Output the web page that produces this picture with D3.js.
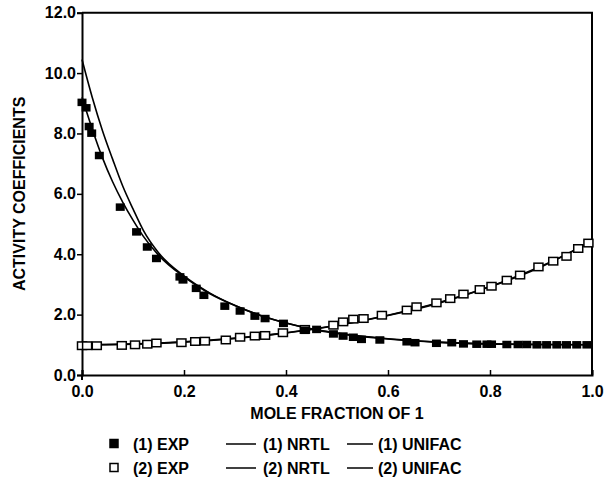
<!DOCTYPE html>
<html>
<head>
<meta charset="utf-8">
<script src="https://cdn.jsdelivr.net/npm/d3@7"></script>
<style>
  html, body { margin: 0; padding: 0; background: #fff; }
  svg text { font-family: "Liberation Sans", Arial, sans-serif; font-weight: bold; fill: #000; }
</style>
</head>
<body>
<svg id="chart" width="607" height="477"></svg>
<script>
// experimental points, component 1 (filled) and 2 (open): [x1, gamma]
const exp1 = [
  [0.0, 9.03], [0.008, 8.85], [0.014, 8.23], [0.019, 8.01], [0.034, 7.27],
  [0.075, 5.56], [0.107, 4.74], [0.128, 4.24], [0.146, 3.86], [0.192, 3.25],
  [0.198, 3.15], [0.224, 2.87], [0.239, 2.64], [0.28, 2.28], [0.31, 2.12],
  [0.339, 1.95], [0.359, 1.87], [0.395, 1.71], [0.437, 1.48], [0.46, 1.51],
  [0.493, 1.36], [0.512, 1.29], [0.532, 1.25], [0.548, 1.18], [0.584, 1.16],
  [0.637, 1.1], [0.653, 1.07], [0.695, 1.05], [0.725, 1.07], [0.748, 1.03],
  [0.774, 1.02], [0.794, 1.02], [0.803, 1.02], [0.833, 1.01], [0.855, 1.01],
  [0.872, 1.01], [0.892, 1.0], [0.911, 1.0], [0.931, 1.0], [0.95, 1.0],
  [0.97, 1.0], [0.99, 1.0]
];
const exp2 = [
  [0.0, 0.97], [0.01, 0.97], [0.029, 0.97], [0.078, 0.98], [0.104, 1.0],
  [0.128, 1.02], [0.146, 1.06], [0.195, 1.07], [0.222, 1.11], [0.241, 1.12],
  [0.282, 1.16], [0.31, 1.25], [0.339, 1.29], [0.359, 1.31], [0.394, 1.4],
  [0.437, 1.51], [0.493, 1.65], [0.512, 1.76], [0.532, 1.85], [0.552, 1.87],
  [0.588, 1.98], [0.637, 2.15], [0.656, 2.26], [0.695, 2.39], [0.722, 2.53],
  [0.748, 2.68], [0.78, 2.83], [0.803, 2.94], [0.833, 3.14], [0.859, 3.31],
  [0.895, 3.58], [0.924, 3.77], [0.95, 3.93], [0.973, 4.19], [0.993, 4.37]
];

// model curves
const nrtl1 = [
  [0, 9.2], [0.02, 8.15], [0.04, 7.2], [0.06, 6.4], [0.08, 5.72], [0.1, 5.13],
  [0.12, 4.6], [0.15, 3.97], [0.2, 3.25], [0.25, 2.7], [0.3, 2.3], [0.35, 1.97],
  [0.4, 1.72], [0.45, 1.53], [0.5, 1.39], [0.6, 1.2], [0.7, 1.09], [0.8, 1.03],
  [0.9, 1.01], [1.0, 1.0]
];
const unifac1 = [
  [0, 10.45], [0.02, 9.2], [0.04, 8.1], [0.06, 7.15], [0.08, 6.25], [0.1, 5.5],
  [0.12, 4.8], [0.15, 4.05], [0.2, 3.28], [0.25, 2.72], [0.3, 2.3], [0.35, 1.97],
  [0.4, 1.72], [0.45, 1.52], [0.5, 1.38], [0.6, 1.19], [0.7, 1.08], [0.8, 1.03],
  [0.9, 1.01], [1.0, 1.0]
];
const nrtl2 = [
  [0, 1.0], [0.1, 1.03], [0.2, 1.1], [0.3, 1.22], [0.4, 1.4], [0.5, 1.65],
  [0.6, 1.98], [0.7, 2.4], [0.8, 2.93], [0.9, 3.6], [1.0, 4.42]
];
const unifac2 = [
  [0, 1.0], [0.1, 1.02], [0.2, 1.09], [0.3, 1.21], [0.4, 1.39], [0.5, 1.64],
  [0.6, 1.97], [0.7, 2.38], [0.8, 2.92], [0.9, 3.58], [1.0, 4.45]
];

const xTicks = [0, 0.2, 0.4, 0.6, 0.8, 1.0];
const yTicks = [0, 2, 4, 6, 8, 10, 12];
const legendRows = [
  ['(1) EXP', '(1) NRTL', '(1) UNIFAC'],
  ['(2) EXP', '(2) NRTL', '(2) UNIFAC']
];

const svg = d3.select('#chart');
const plot = { left: 82, right: 592, top: 12.7, bottom: 375 };

const x = d3.scaleLinear().domain([0, 1]).range([plot.left, plot.right]);
const y = d3.scaleLinear().domain([0, 12]).range([plot.bottom, plot.top]);

// frame (top + right)
svg.append('path')
  .attr('d', `M${plot.left},${plot.top}H${plot.right}V${plot.bottom}`)
  .attr('fill', 'none').attr('stroke', '#000').attr('stroke-width', 2);

const xAxis = svg.append('g')
  .attr('transform', `translate(0,${plot.bottom})`)
  .call(d3.axisBottom(x).tickValues(xTicks).tickSize(-5).tickPadding(11)
    .tickFormat(d3.format('.1f')));
xAxis.select('.domain').attr('stroke-width', 2);
xAxis.selectAll('line').attr('stroke-width', 1.5);

const yAxis = svg.append('g')
  .attr('transform', `translate(${plot.left},0)`)
  .call(d3.axisLeft(y).tickValues(yTicks).tickSize(5).tickPadding(1)
    .tickFormat(d3.format('.1f')));
yAxis.select('.domain').attr('stroke-width', 2);
yAxis.selectAll('line').attr('stroke-width', 1.5);

svg.selectAll('.tick text').style('font-size', '16px').style('font-family', '"Liberation Sans", Arial, sans-serif');

// y axis runs a little below the x axis
svg.append('line')
  .attr('x1', plot.left).attr('x2', plot.left).attr('y1', plot.bottom).attr('y2', plot.bottom + 5)
  .attr('stroke', '#000').attr('stroke-width', 2);

svg.append('text')
  .attr('x', (plot.left + plot.right) / 2).attr('y', 419)
  .attr('text-anchor', 'middle')
  .style('font-size', '16px')
  .text('MOLE FRACTION OF 1');

svg.append('text')
  .attr('transform', `translate(25,${(plot.top + plot.bottom) / 2}) rotate(-90)`)
  .attr('text-anchor', 'middle')
  .style('font-size', '16px')
  .text('ACTIVITY COEFFICIENTS');

const line = d3.line()
  .x(d => x(d[0])).y(d => y(d[1]))
  .curve(d3.curveMonotoneX);

[nrtl1, unifac1, nrtl2, unifac2].forEach(c => {
  svg.append('path')
    .attr('d', line(c))
    .attr('fill', 'none')
    .attr('stroke', '#000')
    .attr('stroke-width', 1.6);
});

// markers are a little wider than tall in the scan
const mw = 9, mh = 7.5;
svg.append('g').selectAll('rect')
  .data(exp2).join('rect')
  .attr('x', d => x(d[0]) - mw / 2).attr('y', d => y(d[1]) - mh / 2)
  .attr('width', mw).attr('height', mh)
  .attr('fill', '#fff').attr('stroke', '#000').attr('stroke-width', 1.5);

svg.append('g').selectAll('rect')
  .data(exp1).join('rect')
  .attr('x', d => x(d[0]) - mw / 2).attr('y', d => y(d[1]) - mh / 2)
  .attr('width', mw).attr('height', mh)
  .attr('fill', '#000');

// legend
const rowY = [444, 468];
const legend = svg.append('g');
legendRows.forEach((row, i) => {
  const ly = rowY[i];
  legend.append('rect')
    .attr('x', 110).attr('y', ly - 4.5)
    .attr('width', 8).attr('height', 8)
    .attr('fill', i === 0 ? '#000' : '#fff')
    .attr('stroke', '#000').attr('stroke-width', 1.5);
  legend.append('text').attr('x', 133).attr('y', ly + 6)
    .style('font-size', '16px').text(row[0]);
  legend.append('line')
    .attr('x1', 226).attr('x2', 256).attr('y1', ly).attr('y2', ly)
    .attr('stroke', '#000').attr('stroke-width', 1.5);
  legend.append('text').attr('x', 263).attr('y', ly + 6)
    .style('font-size', '16px').text(row[1]);
  legend.append('line')
    .attr('x1', 347).attr('x2', 373).attr('y1', ly).attr('y2', ly)
    .attr('stroke', '#000').attr('stroke-width', 1.5);
  legend.append('text').attr('x', 378).attr('y', ly + 6)
    .style('font-size', '16px').text(row[2]);
});
</script>
</body>
</html>
